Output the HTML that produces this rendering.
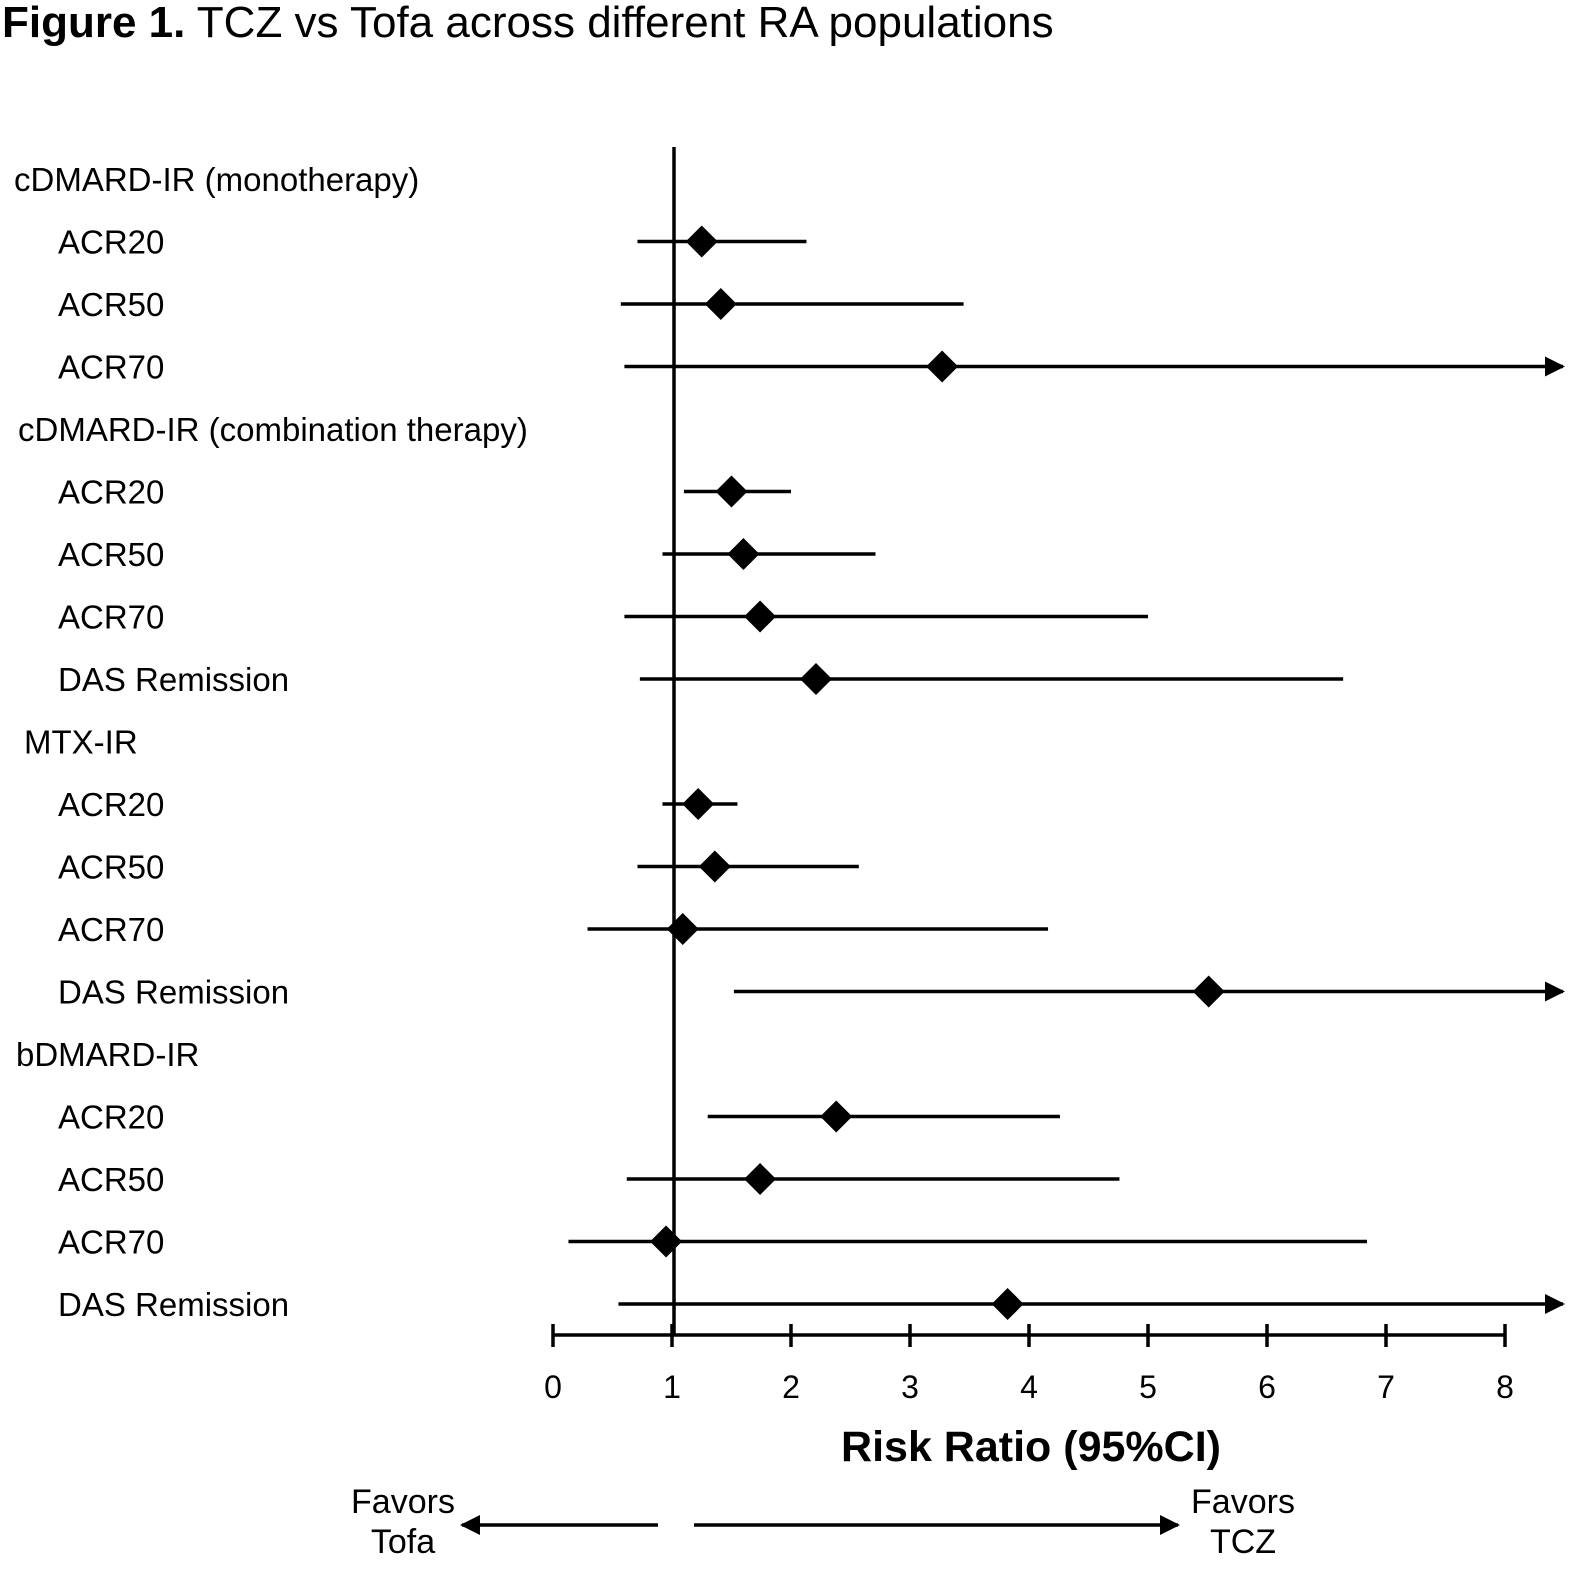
<!DOCTYPE html>
<html><head><meta charset="utf-8"><style>
body{margin:0;background:#fff;}
svg{display:block;font-family:"Liberation Sans",Arial,sans-serif;}
</style></head><body>
<svg width="1590" height="1588" viewBox="0 0 1590 1588">
<defs>
<marker id="ah2" markerWidth="20" markerHeight="20" refX="18" refY="10" orient="auto" markerUnits="userSpaceOnUse"><path d="M0,0 L20,10 L0,20 z" fill="#000"/></marker></defs>
<text x="2" y="37" font-size="44"><tspan font-weight="bold">Figure 1.</tspan> TCZ vs Tofa across different RA populations</text>
<g id="plot"></g>
<text x="1031" y="1461" font-size="43" font-weight="bold" text-anchor="middle">Risk Ratio (95%CI)</text>
<text x="403" y="1513" font-size="34" text-anchor="middle"><tspan x="403">Favors</tspan><tspan x="403" dy="40">Tofa</tspan></text>
<text x="1243" y="1513" font-size="34" text-anchor="middle"><tspan x="1243">Favors</tspan><tspan x="1243" dy="40">TCZ</tspan></text>
<line x1="658" y1="1525" x2="462" y2="1525" stroke="#000" stroke-width="3.5" marker-end="url(#ah2)"/>
<line x1="694" y1="1525" x2="1178" y2="1525" stroke="#000" stroke-width="3.5" marker-end="url(#ah2)"/>
</svg>
<script>
const labels=["cDMARD-IR (monotherapy)","ACR20","ACR50","ACR70","cDMARD-IR (combination therapy)","ACR20","ACR50","ACR70","DAS Remission","MTX-IR","ACR20","ACR50","ACR70","DAS Remission","bDMARD-IR","ACR20","ACR50","ACR70","DAS Remission"];
const isHeader=[1,0,0,0,1,0,0,0,0,1,0,0,0,0,1,0,0,0,0];
const estimates=[null,1.25,1.41,3.27,null,1.50,1.60,1.74,2.21,null,1.22,1.36,1.09,5.51,null,2.38,1.74,0.95,3.82];
const lower=[null,0.71,0.57,0.60,null,1.10,0.92,0.60,0.73,null,0.92,0.71,0.29,1.52,null,1.30,0.62,0.13,0.55];
const upper=[null,2.13,3.45,12,null,2.0,2.71,5.0,6.64,null,1.55,2.57,4.16,12,null,4.26,4.76,6.84,12];
const ticks=[0,1,2,3,4,5,6,7,8];
const NS="http://www.w3.org/2000/svg";
const g=document.getElementById('plot');
const x=v=>553+v*119;
const y=i=>179+i*62.5;
const xMaxPx=1565;
function mk(t,a){const e=document.createElementNS(NS,t);for(const k in a)e.setAttribute(k,a[k]);g.appendChild(e);return e;}
let e=mk('line',{x1:x(1)+2,y1:147,x2:x(1)+2,y2:1335,stroke:'#000','stroke-width':3.5});


e=mk('line',{x1:x(0),y1:1335,x2:x(8),y2:1335,stroke:'#000','stroke-width':3.5});


ticks.forEach(t=>{
 let l=mk('line',{x1:x(t),y1:1324,x2:x(t),y2:1347,stroke:'#000','stroke-width':3.5});
 
 
 let tx=mk('text',{x:x(t),y:1398,'font-size':32,'text-anchor':'middle'});tx.textContent=t;
 
 
});
labels.forEach((lb,i)=>{
 let tx=mk('text',{x:isHeader[i]?(i==4?18:i==9?24:i==14?16:14):58,y:y(i)+12,'font-size':33});tx.textContent=lb;
 
 
 if(estimates[i]==null)return;
 const hiPx=Math.min(x(upper[i]),xMaxPx);
 const arrow=x(upper[i])>xMaxPx;
 let l=mk('line',{x1:x(lower[i]),y1:y(i),x2:arrow?hiPx-2:hiPx,y2:y(i),stroke:'#000','stroke-width':3.5});
 if(arrow){l.setAttribute('marker-end','url(#ah2)');}
 
 
 const cx=x(estimates[i]),cy=y(i),r=16;
 let d=mk('polygon',{points:`${cx},${cy-r} ${cx+r},${cy} ${cx},${cy+r} ${cx-r},${cy}`,fill:'#000'});
 
 
});
</script>
</body></html>
